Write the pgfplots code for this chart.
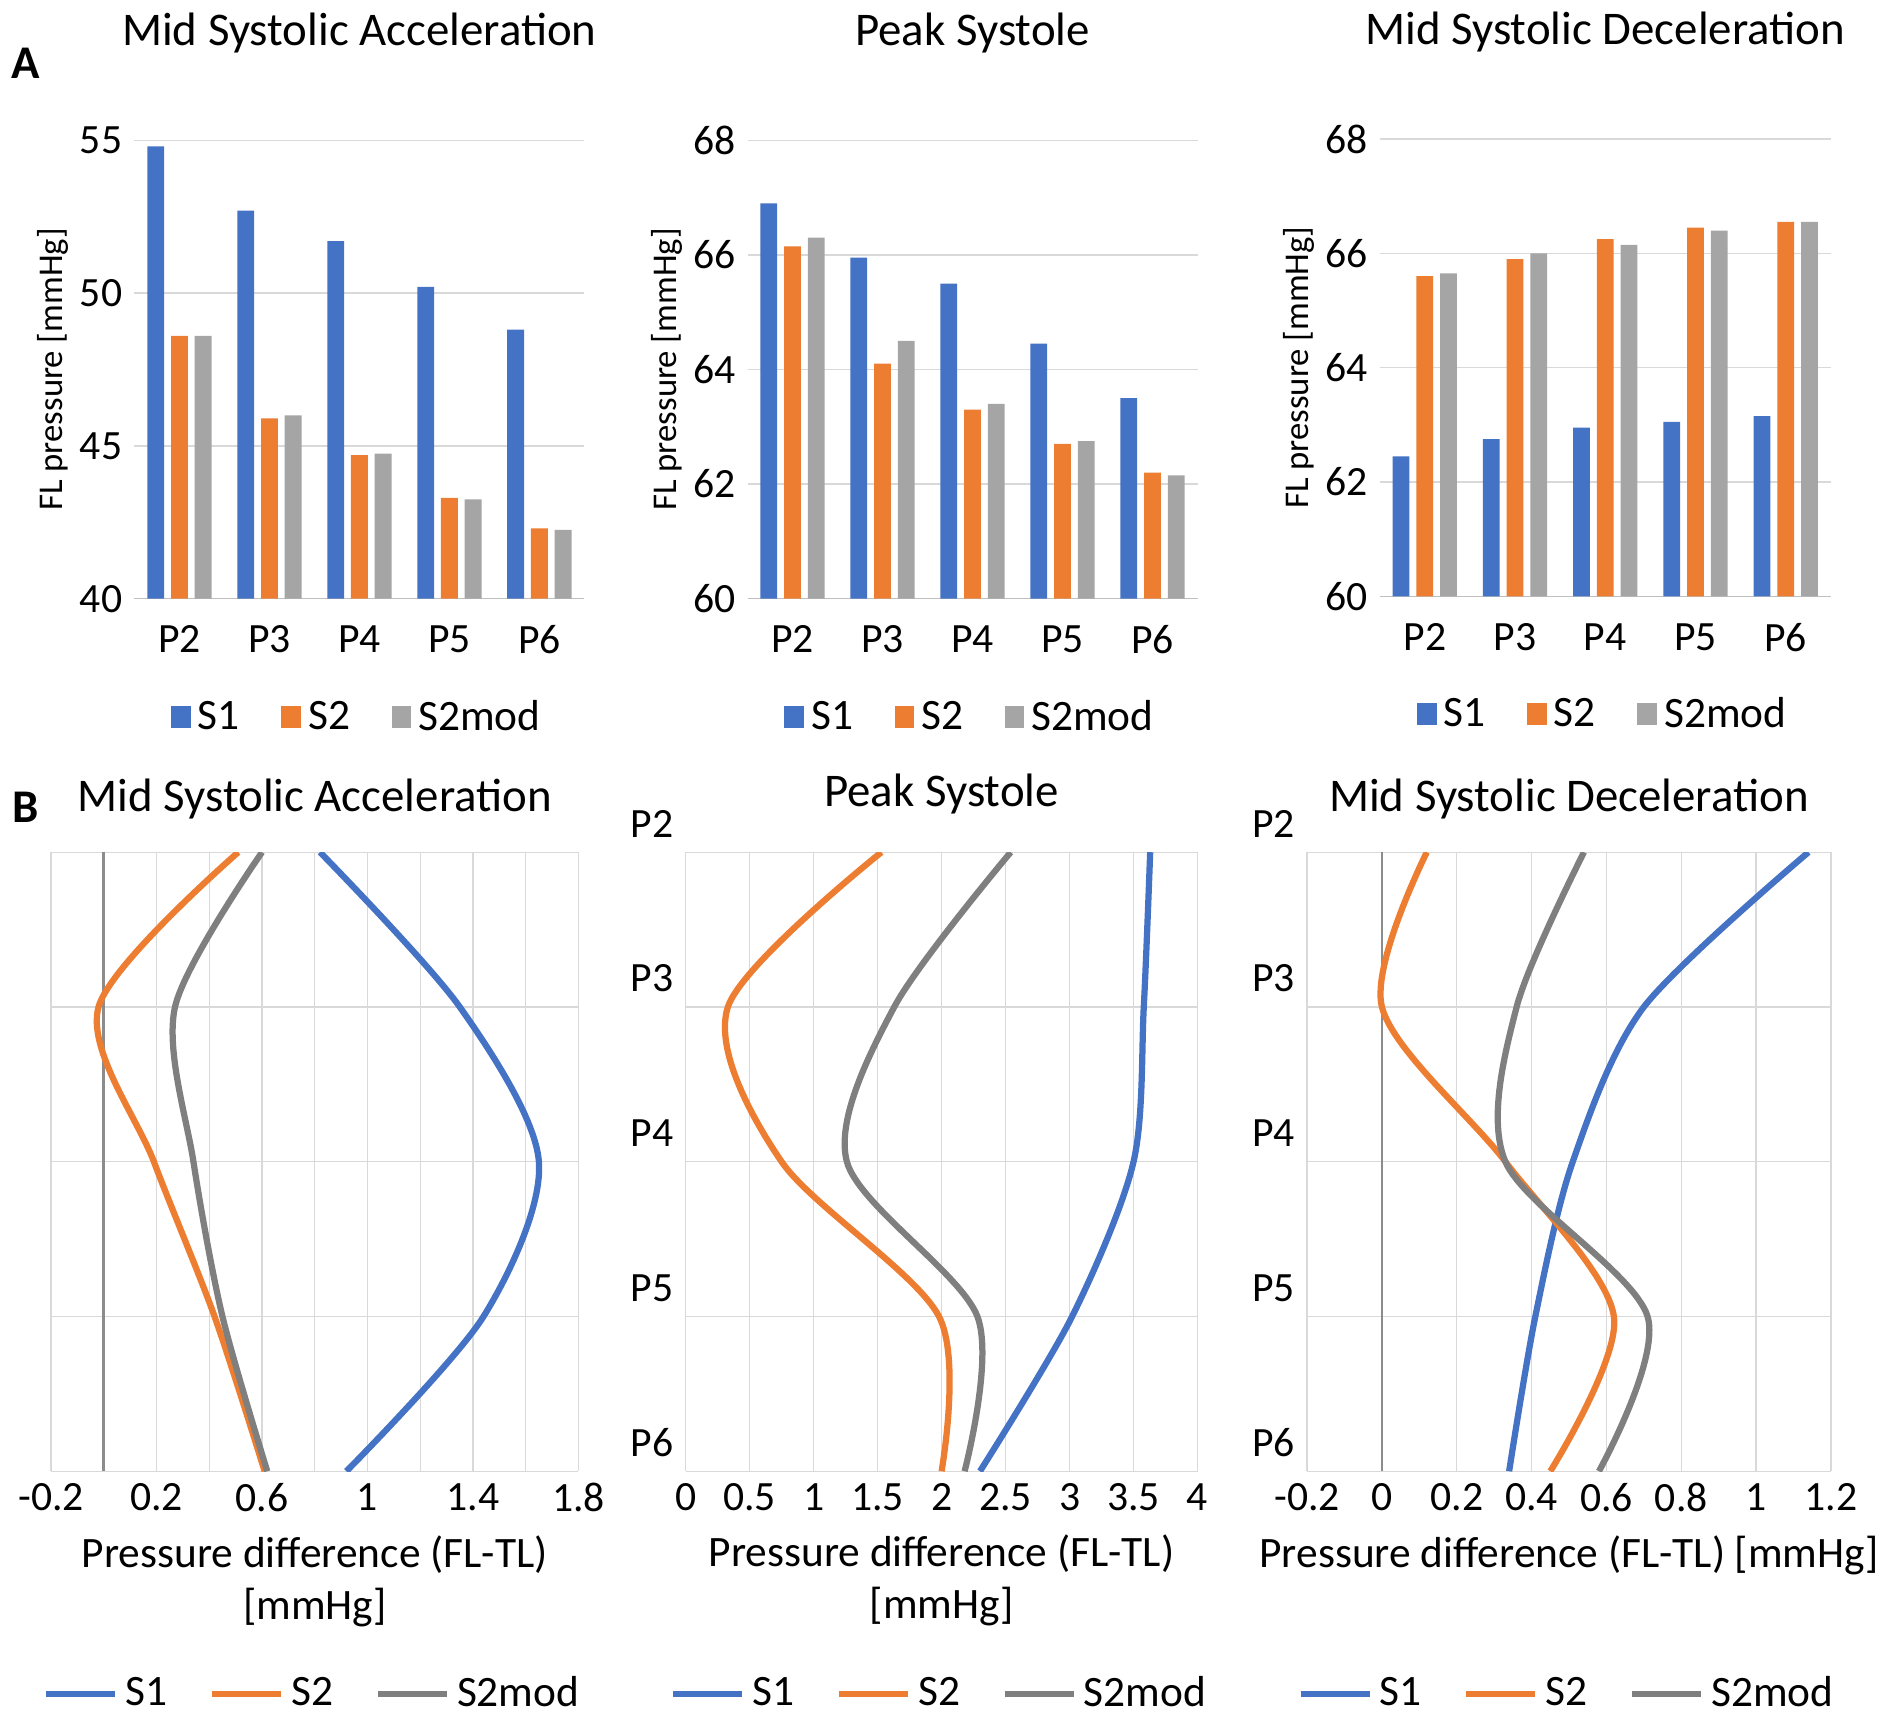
\documentclass[border=0pt]{standalone}
\usepackage{pgfplots}
\pgfplotsset{compat=1.18}
\usepackage{fontspec}
\setmainfont{Carlito}
\definecolor{cb}{HTML}{4472C4}
\definecolor{co}{HTML}{ED7D31}
\definecolor{cg}{HTML}{A5A5A5}
\definecolor{cd}{HTML}{7F7F7F}
\pgfplotsset{
 base/.style={scale only axis, anchor=north west,
  /pgf/number format/assume math mode=true,
  tick label style={font=\fontsize{12}{14}\selectfont},
  label style={font=\fontsize{12.5}{15}\selectfont},
  title style={font=\fontsize{13.5}{16}\selectfont},
  major grid style={draw=black!15}, minor grid style={draw=black!15},
  tick style={draw=none},
  legend style={draw=none, font=\fontsize{12.5}{15}\selectfont, /tikz/every even column/.append style={column sep=0.35cm}},
  legend columns=-1},
 top/.style={base, width=4.556cm, height=4.641cm, ybar, bar width=0.17cm,
  xmin=-0.5, xmax=4.5, xtick=data, xticklabels={P2,P3,P4,P5,P6},
  ymajorgrids, axis x line*=bottom, axis y line*=left, x axis line style={draw=black!25}, y axis line style={draw=none},
  ylabel={FL pressure [mmHg]}, every axis y label/.style={at={(-0.18,0.5)},rotate=90,anchor=center},
  title style={yshift=0.55cm},
  legend style={at={(0.5,-0.26)},anchor=center}, legend image code/.code={\fill[#1] (0cm,-0.1cm) rectangle (0.2cm,0.12cm);}},
 bot/.style={base, height=6.268cm, y dir=reverse, ymin=2, ymax=6, ytick={2,...,6},
  yticklabels={P2,P3,P4,P5,P6}, yticklabel style={yshift=0.29cm},
  grid=both, axis line style={draw=none},
  xlabel style={align=center},
  legend style={at={(0.5,-0.36)},anchor=center}, legend image code/.code={\draw[#1,line width=1.8pt] (0cm,0cm) -- (0.7cm,0cm);},
  every axis plot/.append style={line width=1.8pt, smooth}},
}
\begin{document}
\begin{tikzpicture}
\path (0,0) rectangle (18.9,-17.0);
\node[font=\fontsize{13.5}{16}\selectfont\bfseries] at (0.25,-0.27) {A};
\node[font=\fontsize{13.5}{16}\selectfont\bfseries] at (0.25,-7.8) {B};
\begin{axis}[top, at={(1.35cm,-1.049cm)}, ymin=40, ymax=55, ytick={40,45,50,55}, title={Mid Systolic Acceleration}]
\addplot[fill=cb,draw=none] coordinates {(0,54.8)(1,52.7)(2,51.7)(3,50.2)(4,48.8)};
\addplot[fill=co,draw=none] coordinates {(0,48.6)(1,45.9)(2,44.7)(3,43.3)(4,42.3)};
\addplot[fill=cg,draw=none] coordinates {(0,48.6)(1,46.0)(2,44.75)(3,43.25)(4,42.25)};
\legend{S1,S2,S2mod}
\end{axis}
\begin{axis}[top, at={(7.558cm,-1.049cm)}, ymin=60, ymax=68, ytick={60,62,...,68}, title={Peak Systole}]
\addplot[fill=cb,draw=none] coordinates {(0,66.9)(1,65.95)(2,65.5)(3,64.45)(4,63.5)};
\addplot[fill=co,draw=none] coordinates {(0,66.15)(1,64.1)(2,63.3)(3,62.7)(4,62.2)};
\addplot[fill=cg,draw=none] coordinates {(0,66.3)(1,64.5)(2,63.4)(3,62.75)(4,62.15)};
\legend{S1,S2,S2mod}
\end{axis}
\begin{axis}[top, at={(13.958cm,-1.037cm)}, width=4.568cm, height=4.629cm, ymin=60, ymax=68, ytick={60,62,...,68}, title={Mid Systolic Deceleration}]
\addplot[fill=cb,draw=none] coordinates {(0,62.45)(1,62.75)(2,62.95)(3,63.05)(4,63.15)};
\addplot[fill=co,draw=none] coordinates {(0,65.6)(1,65.9)(2,66.25)(3,66.45)(4,66.55)};
\addplot[fill=cg,draw=none] coordinates {(0,65.65)(1,66.0)(2,66.15)(3,66.4)(4,66.55)};
\legend{S1,S2,S2mod}
\end{axis}
\begin{axis}[bot, at={(0.506cm,-8.257cm)}, width=5.34cm, xmin=-0.2, xmax=1.8,
 xtick={-0.2,0.2,0.6,1,1.4,1.8}, xticklabels={-0.2,0.2,0.6,1,1.4,1.8}, minor xtick={0,0.4,0.8,1.2,1.6},
 yticklabels={}, title={Mid Systolic Acceleration}, xlabel={Pressure difference (FL-TL)\\{}[mmHg]}]
\draw[black!45,line width=0.8pt] (axis cs:0,2) -- (axis cs:0,6);
\addplot[cb] coordinates {(0.82,2)(1.35,3)(1.65,4)(1.44,5)(0.92,6)};
\addplot[co] coordinates {(0.51,2)(-0.02,3)(0.19,4)(0.42,5)(0.61,6)};
\addplot[cd] coordinates {(0.60,2)(0.27,3)(0.34,4)(0.45,5)(0.62,6)};
\legend{S1,S2,S2mod}
\end{axis}
\begin{axis}[bot, at={(6.931cm,-8.257cm)}, width=5.183cm, xmin=0, xmax=4,
 xtick={0,0.5,...,4}, xticklabels={0,0.5,1,1.5,2,2.5,3,3.5,4}, title={Peak Systole}, title style={yshift=0.05cm},
 xlabel={Pressure difference (FL-TL)\\{}[mmHg]}]
\addplot[cb] coordinates {(3.63,2)(3.58,3)(3.5,4)(3.02,5)(2.3,6)};
\addplot[co] coordinates {(1.53,2)(0.33,3)(0.75,4)(1.98,5)(2.0,6)};
\addplot[cd] coordinates {(2.54,2)(1.63,3)(1.26,4)(2.28,5)(2.18,6)};
\legend{S1,S2,S2mod}
\end{axis}
\begin{axis}[bot, at={(13.223cm,-8.257cm)}, width=5.304cm, xmin=-0.2, xmax=1.2,
 xtick={-0.2,0,...,1.2}, xticklabels={-0.2,0,0.2,0.4,0.6,0.8,1,1.2}, title={Mid Systolic Deceleration},
 xlabel={Pressure difference (FL-TL) [mmHg]}]
\draw[black!45,line width=0.8pt] (axis cs:0,2) -- (axis cs:0,6);
\addplot[cb] coordinates {(1.14,2)(0.70,3)(0.51,4)(0.41,5)(0.34,6)};
\addplot[co] coordinates {(0.12,2)(0.0,3)(0.33,4)(0.62,5)(0.45,6)};
\addplot[cd] coordinates {(0.54,2)(0.36,3)(0.33,4)(0.71,5)(0.58,6)};
\legend{S1,S2,S2mod}
\end{axis}
\end{tikzpicture}
\end{document}
